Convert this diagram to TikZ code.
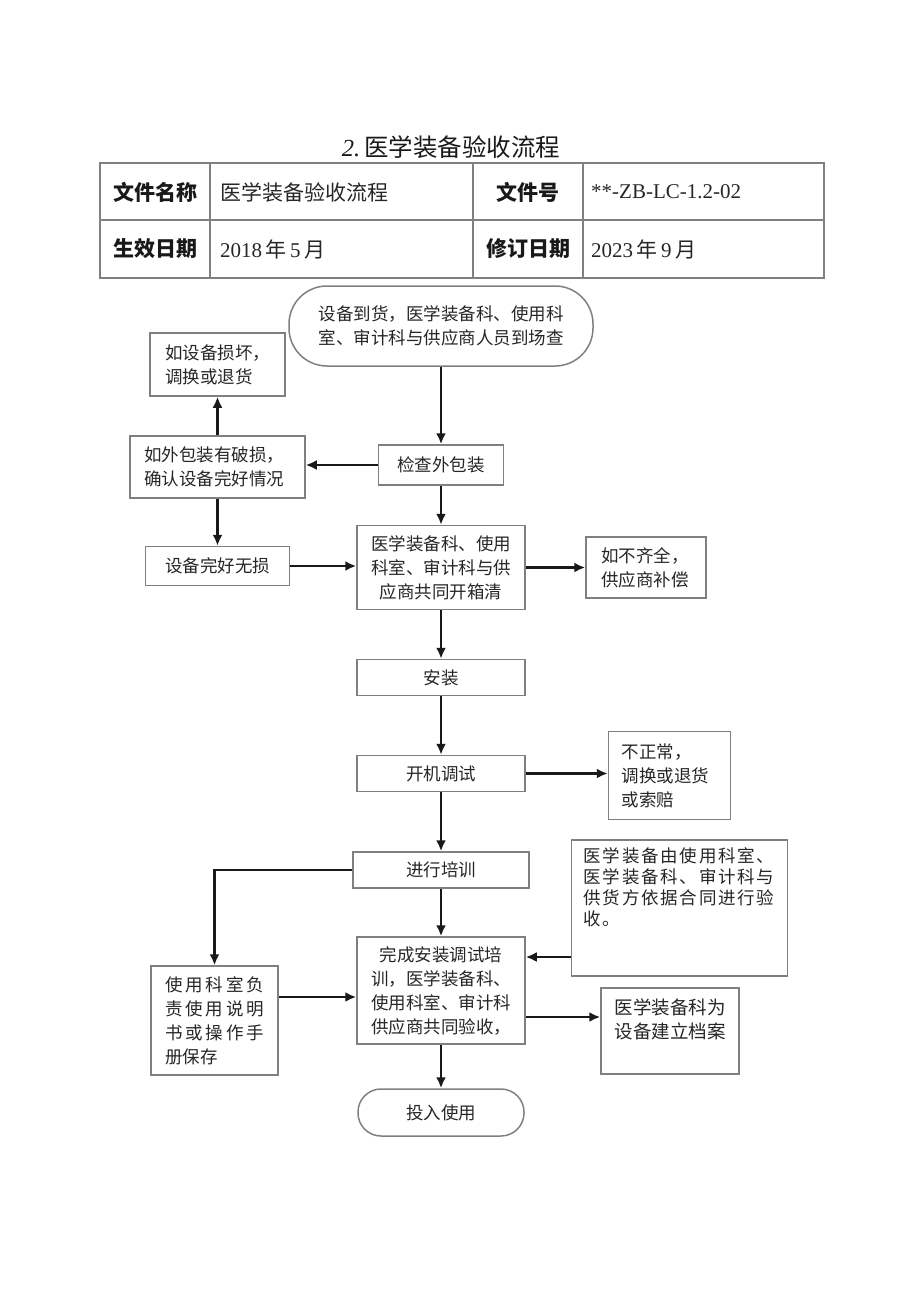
\documentclass[tikz,border=0pt]{standalone}
\usepackage{fontspec}
\setmainfont{Liberation Serif}
\newfontfamily\cjk{Noto Sans CJK SC}
\usetikzlibrary{arrows.meta}
\newcommand\spreadline[1]{\makebox[99pt][s]{#1}}

\begin{document}
\begin{tikzpicture}[x=1pt, y=-1pt, style={
  box/.style={
    draw=black!50,
    line width=1.5pt,
    rectangle,
    inner sep=0pt,
    text=black!85,
    font=\cjk\fontsize{17.5}{24}\selectfont,
  },
  stepbox/.style={
    box,
    align=center,
    minimum width=168pt,
    minimum height=36pt,
  },
  notebox/.style={
    box,
    align=left,
  },
  endbox/.style={
    box,
    align=center,
  },
  myarrow/.style={-{Latex[length=11pt,width=10pt]}, draw=black!90, line width=2.2pt},
  cellline/.style={draw=black!50, line width=1.6pt},
  headcell/.style={text=black!90, font=\cjk\bfseries\fontsize{21}{24}\selectfont},
  datacell/.style={anchor=west, inner sep=0pt, text=black!85, font=\fontsize{21}{24}\selectfont},
}]
\useasboundingbox (0,0) rectangle (920,1301);

% title and table
\node[text=black!90, font=\fontsize{24.5}{28}\selectfont] (title) at (451,147)
  {\textit{2.}\,{\cjk 医学装备验收流程}};
\draw[cellline] (100,163) rectangle (824,278);
\draw[cellline] (100,220) -- (824,220);
\foreach \x in {210,473,583}
  \draw[cellline] (\x,163) -- (\x,278);
\draw[]
  node[headcell] (namehead) at (155,192) {文件名称}
  node[datacell] (name) at (220,192) {\cjk 医学装备验收流程}
  node[headcell] (numhead) at (528,192) {文件号}
  node[datacell] (num) at (591,192) {**-ZB-LC-1.2-02}
  node[headcell] (validhead) at (155,249) {生效日期}
  node[datacell] (valid) at (220,249) {2018\,{\cjk 年}\,5\,{\cjk 月}}
  node[headcell] (revhead) at (528,249) {修订日期}
  node[datacell] (rev) at (591,249) {2023\,{\cjk 年}\,9\,{\cjk 月}}
;

% main column
\draw[]
  node[endbox, rounded corners=38pt, minimum width=304pt, minimum height=80pt]
    (start) at (441,326) {设备到货，医学装备科、使用科\\室、审计科与供应商人员到场查}
  node[stepbox, minimum width=125pt, minimum height=40pt]
    (check) at (441,465) {检查外包装}
  node[stepbox, minimum height=84pt]
    (unbox) at (441,567.5) {医学装备科、使用\\科室、审计科与供\\应商共同开箱清}
  node[stepbox] (install) at (441,677.5) {安装}
  node[stepbox] (debug) at (441,773.5) {开机调试}
  node[stepbox, minimum width=176pt] (train) at (441,870) {进行培训}
  node[stepbox, minimum height=107pt]
    (accept) at (441,990.5) {完成安装调试培\\训，医学装备科、\\使用科室、审计科\\供应商共同验收，}
  node[endbox, rounded corners=23pt, minimum width=166pt, minimum height=47pt]
    (use) at (441,1112.5) {投入使用}
;

% side boxes
\draw[]
  node[notebox, text width=105pt, minimum width=135pt, minimum height=63pt]
    (damage) at (217.5,364.5) {如设备损坏，\\调换或退货}
  node[notebox, text width=147pt, minimum width=175pt, minimum height=62pt]
    (pkgbad) at (217.5,467) {如外包装有破损，\\确认设备完好情况}
  node[endbox, minimum width=144pt, minimum height=39pt]
    (intact) at (217.5,566) {设备完好无损}
  node[notebox, text width=90pt, minimum width=120pt, minimum height=61pt]
    (lack) at (646,567.5) {如不齐全，\\供应商补偿}
  node[notebox, text width=96pt, minimum width=122pt, minimum height=88pt]
    (abnormal) at (669.5,775.5) {不正常，\\调换或退货\\或索赔}
  node[notebox, text width=99pt, minimum width=127pt, minimum height=109pt]
    (manual) at (214.5,1020.5)
    {\spreadline{使\hfill 用\hfill 科\hfill 室\hfill 负}\\
     \spreadline{责\hfill 使\hfill 用\hfill 说\hfill 明}\\
     \spreadline{书\hfill 或\hfill 操\hfill 作\hfill 手}\\
     册保存}
  node[notebox, text width=192pt, minimum width=216pt, minimum height=136pt,
       font=\cjk\fontsize{17.5}{21}\selectfont\addfontfeature{LetterSpace=10}]
    (rule) at (679.5,908)
    {医学装备由使用科室、\\医学装备科、审计科与\\供货方依据合同进行验\\收。\\\mbox{}\\\mbox{}}
  node[endbox, minimum width=138pt, minimum height=86pt,
       font=\cjk\fontsize{18.5}{24}\selectfont]
    (archive) at (670,1031) {医学装备科为\\设备建立档案\\\mbox{}}
;

% connectors
\coordinate (accin) at ([yshift=-6.5pt]accept.west);
\coordinate (ruleout) at ([yshift=33.5pt]accept.east);
\coordinate (archout) at ([yshift=-26.5pt]accept.east);
\draw[myarrow] (start.south) -- (check.north);
\draw[myarrow] (check.west) -- (check.west -| pkgbad.east);
\draw[myarrow] (pkgbad.north) -- (damage.south);
\draw[myarrow] (pkgbad.south) -- (intact.north);
\draw[myarrow] (intact.east) -- (intact.east -| unbox.west);
\draw[myarrow] (check.south) -- (unbox.north);
\draw[myarrow] (unbox.east) -- (unbox.east -| lack.west);
\draw[myarrow] (unbox.south) -- (install.north);
\draw[myarrow] (install.south) -- (debug.north);
\draw[myarrow] (debug.east) -- (debug.east -| abnormal.west);
\draw[myarrow] (debug.south) -- (train.north);
\draw[myarrow] (train.west) -| (manual.north);
\draw[myarrow] (train.south) -- (accept.north);
\draw[myarrow] (accin -| manual.east) -- (accin);
\draw[myarrow] (ruleout -| rule.west) -- (ruleout);
\draw[myarrow] (archout) -- (archout -| archive.west);
\draw[myarrow] (accept.south) -- (use.north);
\end{tikzpicture}
\end{document}
